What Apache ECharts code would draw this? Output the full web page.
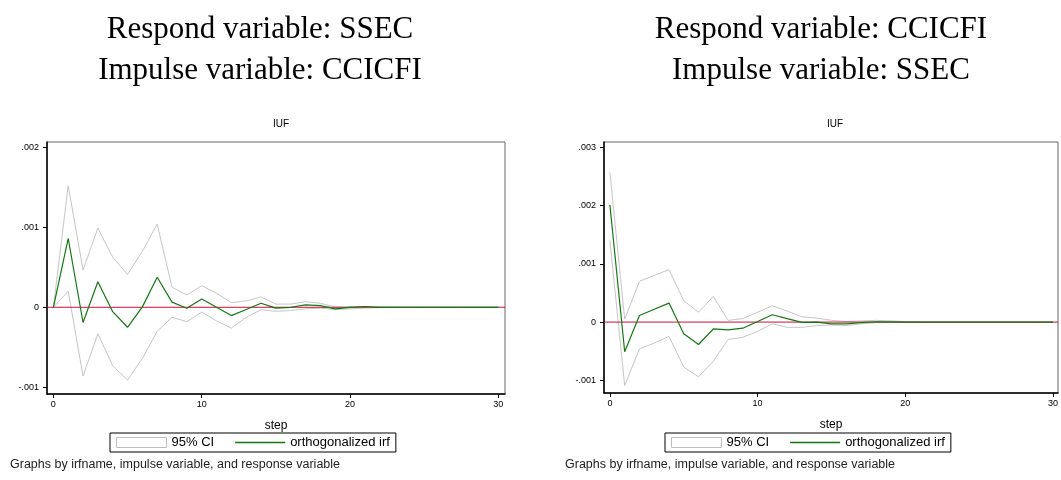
<!DOCTYPE html>
<html>
<head>
<meta charset="utf-8">
<title>IRF</title>
<script src="https://cdn.jsdelivr.net/npm/echarts@6/dist/echarts.min.js"></script>
<style>
html, body { margin: 0; padding: 0; background: #fff; }
#main { width: 1061px; height: 480px; }
</style>
</head>
<body>
<div id="main"></div>
<script>
// steps 0..30
var steps = [];
for (var i = 0; i <= 30; i++) steps.push(i);

// left panel: respond SSEC, impulse CCICFI
var irfA = [0, 0.00086, -0.00019, 0.00032, -0.000055, -0.00025, 0.000005, 0.000375, 0.000065, -0.000012,
    0.000104, 0.0, -0.000104, -0.000028, 0.00005, -0.00001, 0.0, 0.00003, 0.00002, -0.00002,
    0.0, 0.00001, 0.0, 0.0, 0.0, 0.0, 0.0, 0.0, 0.0, 0.0, 0.0];
var upA = [0, 0.00152, 0.000467, 0.00099, 0.000625, 0.00041, 0.0007, 0.00104, 0.00025, 0.000154,
    0.00027, 0.000175, 0.000058, 0.00008, 0.00013, 0.00004, 0.00004, 0.00007, 0.00005, 0.000005,
    0.000005, 0.00001, 0.000005, 0.000003, 0.000002, 0.000002, 0.000001, 0.000001, 0, 0, 0];
var loA = [0, 0.0002, -0.00086, -0.00033, -0.00073, -0.00091, -0.00064, -0.0003, -0.000125, -0.00018,
    -0.00006, -0.00017, -0.00026, -0.000125, -0.00003, -0.00005, -0.00004, -0.00002, -0.00001, -0.00003,
    -0.00002, -0.00001, -0.000005, -0.000003, -0.000002, -0.000002, -0.000001, -0.000001, 0, 0, 0];

// right panel: respond CCICFI, impulse SSEC
var irfB = [0.00201, -0.00051, 0.000112, 0.00022, 0.000326, -0.0002, -0.000385, -0.000118, -0.000135, -0.000105,
    0.00001, 0.000126, 0.00006, -0.000005, 0.0, -0.00003, -0.00003, -0.00001, 0.000005, 0.000005,
    0.0, 0.0, 0.0, 0.0, 0.0, 0.0, 0.0, 0.0, 0.0, 0.0, 0.0];
var upB = [0.00257, 0.00005, 0.0007, 0.0008, 0.0009, 0.000366, 0.00017, 0.00044, 0.00003, 0.00006,
    0.00017, 0.00028, 0.00019, 0.00009, 0.00007, 0.00003, 0.00001, 0.00002, 0.00003, 0.00002,
    0.00001, 0.000005, 0.000003, 0.000002, 0.000001, 0.000001, 0, 0, 0, 0, 0];
var loB = [0.0014, -0.00109, -0.00046, -0.00036, -0.000246, -0.00077, -0.00094, -0.00067, -0.0003, -0.00026,
    -0.00016, -0.00003, -0.00009, -0.00009, -0.00006, -0.00005, -0.00006, -0.00003, -0.00001, -0.00001,
    -0.000005, -0.000003, -0.000002, -0.000001, -0.000001, 0, 0, 0, 0, 0, 0];

var xTicks = [0, 10, 20, 30];
var yTicksA = [-0.001, 0, 0.001, 0.002];
var yTicksB = [-0.001, 0, 0.001, 0.002, 0.003];
var yLine = 0;   // reference line (yline 0)

// axis ranges (plot region incl. stata's outer margin)
var xRangeA = [-0.43, 30.45], yRangeA = [-0.001084, 0.002066];
var xRangeB = [-0.40, 30.34], yRangeB = [-0.001217, 0.003091];

var titlesA = ['Respond variable: SSEC', 'Impulse variable: CCICFI'];
var titlesB = ['Respond variable: CCICFI', 'Impulse variable: SSEC'];
var footNote = 'Graphs by irfname, impulse variable, and response variable';

var SANS = '"Liberation Sans", Arial, Helvetica, sans-serif';
var SERIF = '"Liberation Serif", "Times New Roman", serif';
var GREEN = '#137813';
var GRAY = '#c6c6c6';
var RED = '#c8103c';

function pairs(arr) {
    var out = [];
    for (var i = 0; i < steps.length; i++) out.push([steps[i], arr[i]]);
    return out;
}

function fmtY(v) {
    if (Math.abs(v) < 1e-12) return '0';
    var s = String(Number(v.toFixed(4)));
    return s.replace('0.', '.');
}

function xAxisFor(idx, range) {
    return {
        type: 'value', gridIndex: idx, min: range[0], max: range[1],
        name: 'step', nameLocation: 'middle', nameGap: 26,
        nameTextStyle: { fontSize: 12, color: '#000', fontFamily: SANS },
        axisLine: { show: true, onZero: false, lineStyle: { color: '#000', width: 1.5 } },
        axisTick: { show: true, length: 4, customValues: xTicks, lineStyle: { color: '#000' } },
        axisLabel: { customValues: xTicks, margin: 6, fontSize: 9, color: '#000', fontFamily: SANS },
        splitLine: { show: false }
    };
}

function yAxisFor(idx, range, ticks) {
    return {
        type: 'value', gridIndex: idx, min: range[0], max: range[1],
        axisLine: { show: true, onZero: false, lineStyle: { color: '#000', width: 1.5 } },
        axisTick: { show: true, length: 4, customValues: ticks, lineStyle: { color: '#000' } },
        axisLabel: { customValues: ticks, margin: 8, fontSize: 9, color: '#000', fontFamily: SANS,
            formatter: fmtY },
        splitLine: { show: false }
    };
}

function panelSeries(idx, irf, up, lo, xRange) {
    var ci = function (data) {
        return {
            name: '95% CI', type: 'line', xAxisIndex: idx, yAxisIndex: idx,
            data: pairs(data), symbol: 'none', silent: true, z: 2,
            lineStyle: { color: GRAY, width: 1 }, itemStyle: { color: GRAY }
        };
    };
    return [
        ci(up),
        ci(lo),
        {
            name: 'yline', type: 'line', xAxisIndex: idx, yAxisIndex: idx,
            data: [[xRange[0], yLine], [xRange[1], yLine]], symbol: 'none', silent: true, z: 3,
            lineStyle: { color: RED, width: 1 }, itemStyle: { color: RED }
        },
        {
            name: 'orthogonalized irf', type: 'line', xAxisIndex: idx, yAxisIndex: idx,
            data: pairs(irf), symbol: 'none', z: 4,
            lineStyle: { color: GREEN, width: 1.2 }, itemStyle: { color: GREEN }
        }
    ];
}

function legendFor(left) {
    return {
        left: left, top: 433, orient: 'horizontal',
        padding: [3, 6], itemGap: 21, itemWidth: 50, itemHeight: 10,
        borderColor: '#000', borderWidth: 1,
        textStyle: { fontSize: 13, color: '#000', fontFamily: SANS },
        selectedMode: false, symbolKeepAspect: true,
        data: [
            { name: '95% CI', icon: 'rect', itemStyle: { color: '#fff', borderColor: '#bdbdbd', borderWidth: 1 } },
            { name: 'orthogonalized irf', icon: 'path://M0,0 H50 V1.3 H0 Z',
              itemStyle: { color: GREEN, borderWidth: 0 } }
        ]
    };
}

var chart = echarts.init(document.getElementById('main'), null, { renderer: 'canvas' });

var option = {
    animation: false,
    backgroundColor: '#fff',
    title: [
        { text: titlesA.join('\n'), left: 255, top: 4, textAlign: 'center',
          textStyle: { fontFamily: SERIF, fontSize: 31, fontWeight: 'normal', color: '#000', lineHeight: 41 } },
        { text: titlesB.join('\n'), left: 816, top: 4, textAlign: 'center',
          textStyle: { fontFamily: SERIF, fontSize: 31, fontWeight: 'normal', color: '#000', lineHeight: 41 } },
        { text: 'IUF', left: 276, top: 114, textAlign: 'center',
          textStyle: { fontFamily: SANS, fontSize: 10, fontWeight: 'normal', color: '#000' } },
        { text: 'IUF', left: 830, top: 114, textAlign: 'center',
          textStyle: { fontFamily: SANS, fontSize: 10, fontWeight: 'normal', color: '#000' } },
        { text: footNote, left: 5, top: 453,
          textStyle: { fontFamily: SANS, fontSize: 12.5, fontWeight: 'normal', color: '#222' } },
        { text: footNote, left: 560, top: 453,
          textStyle: { fontFamily: SANS, fontSize: 12.5, fontWeight: 'normal', color: '#222' } }
    ],
    grid: [
        { left: 47, top: 142, width: 458, height: 252, show: true, borderColor: '#666', borderWidth: 1 },
        { left: 604, top: 142, width: 456, height: 251, show: true, borderColor: '#666', borderWidth: 1 }
    ],
    xAxis: [xAxisFor(0, xRangeA), xAxisFor(1, xRangeB)],
    yAxis: [yAxisFor(0, yRangeA, yTicksA), yAxisFor(1, yRangeB, yTicksB)],
    legend: [legendFor(110), legendFor(665)],
    series: panelSeries(0, irfA, upA, loA, xRangeA).concat(panelSeries(1, irfB, upB, loB, xRangeB))
};

chart.setOption(option);
</script>
</body>
</html>
